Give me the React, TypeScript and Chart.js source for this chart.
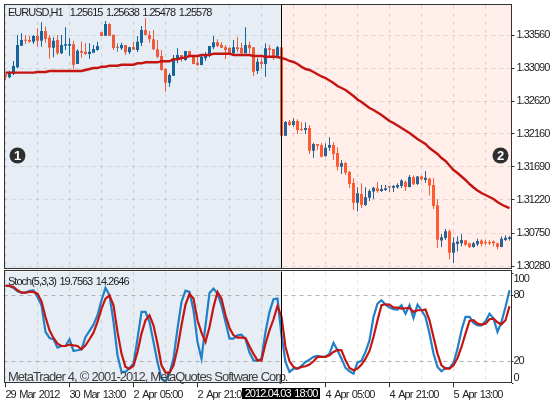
import { useEffect, useRef } from 'react';

import { Chart, registerables } from 'chart.js';
Chart.register(...registerables);

const opens = [
  1.33009, 1.32962, 1.33009, 1.33104, 1.33412, 1.33492, 1.33492, 1.33468, 1.33549, 1.33483, 1.33620, 1.33525, 1.33383, 1.33492, 1.33303, 1.33412,
  1.33412, 1.33430, 1.33151, 1.33336, 1.33326, 1.33293, 1.33312, 1.33350, 1.33601, 1.33554, 1.33719, 1.33568, 1.33383, 1.33374, 1.33421, 1.33317,
  1.33393, 1.33350, 1.33454, 1.33634, 1.33563, 1.33502, 1.33360, 1.33265, 1.33080, 1.32886, 1.32986, 1.33218, 1.33279, 1.33208, 1.33336, 1.33265,
  1.33170, 1.33137, 1.33232, 1.33279, 1.33388, 1.33459, 1.33421, 1.33388, 1.33383, 1.33303, 1.33388, 1.33383, 1.33303, 1.33421, 1.33388, 1.33052,
  1.33184, 1.33151, 1.33374, 1.33364, 1.33270, 1.33388, 1.32134, 1.32332, 1.32285, 1.32342, 1.32224, 1.32214, 1.32243, 1.31921, 1.32015, 1.32001,
  1.31845, 1.31963, 1.32001, 1.31888, 1.31693, 1.31746, 1.31618, 1.31462, 1.31182, 1.31305, 1.31149, 1.31253, 1.31339, 1.31386, 1.31348, 1.31362,
  1.31400, 1.31395, 1.31400, 1.31419, 1.31476, 1.31405, 1.31542, 1.31448, 1.31552, 1.31504, 1.31523, 1.31433, 1.31144, 1.30643, 1.30681, 1.30775,
  1.30472, 1.30595, 1.30605, 1.30648, 1.30605, 1.30553, 1.30591, 1.30643, 1.30624, 1.30624, 1.30633, 1.30605, 1.30553, 1.30652, 1.30666,
];
const highs = [
  1.33009, 1.33057, 1.33194, 1.33563, 1.33587, 1.33563, 1.33549, 1.33563, 1.33658, 1.33743, 1.33681, 1.33563, 1.33530, 1.33563, 1.33563, 1.33672,
  1.33516, 1.33483, 1.33360, 1.33468, 1.33445, 1.33445, 1.33421, 1.33468, 1.33601, 1.33762, 1.33729, 1.33568, 1.33445, 1.33454, 1.33421, 1.33397,
  1.33468, 1.33549, 1.33691, 1.33800, 1.33620, 1.33634, 1.33492, 1.33350, 1.33090, 1.33019, 1.33279, 1.33374, 1.33279, 1.33336, 1.33336, 1.33279,
  1.33255, 1.33279, 1.33317, 1.33407, 1.33549, 1.33502, 1.33459, 1.33421, 1.33383, 1.33492, 1.33530, 1.33454, 1.33672, 1.33468, 1.33388, 1.33232,
  1.33232, 1.33445, 1.33421, 1.33364, 1.33407, 1.33388, 1.32342, 1.32356, 1.32380, 1.32366, 1.32323, 1.32323, 1.32285, 1.32034, 1.32015, 1.32025,
  1.32025, 1.32110, 1.32039, 1.31968, 1.31788, 1.31764, 1.31632, 1.31528, 1.31400, 1.31457, 1.31400, 1.31372, 1.31409, 1.31476, 1.31433, 1.31433,
  1.31419, 1.31433, 1.31457, 1.31514, 1.31495, 1.31575, 1.31566, 1.31561, 1.31566, 1.31632, 1.31537, 1.31528, 1.31230, 1.30737, 1.30808, 1.30804,
  1.30690, 1.30700, 1.30733, 1.30648, 1.30614, 1.30624, 1.30671, 1.30662, 1.30652, 1.30648, 1.30643, 1.30614, 1.30700, 1.30719, 1.30709,
];
const lows = [
  1.32924, 1.32948, 1.32990, 1.33090, 1.33407, 1.33435, 1.33454, 1.33435, 1.33397, 1.33397, 1.33454, 1.33227, 1.33246, 1.33279, 1.33293, 1.33350,
  1.33270, 1.33085, 1.33151, 1.33241, 1.33279, 1.33227, 1.33312, 1.33341, 1.33549, 1.33554, 1.33554, 1.33350, 1.33326, 1.33350, 1.33279, 1.33293,
  1.33350, 1.33322, 1.33407, 1.33554, 1.33454, 1.33350, 1.33232, 1.33057, 1.32758, 1.32829, 1.32981, 1.33161, 1.33184, 1.33199, 1.33246, 1.33147,
  1.33123, 1.33132, 1.33194, 1.33246, 1.33360, 1.33388, 1.33374, 1.33222, 1.33289, 1.33289, 1.33317, 1.33293, 1.33303, 1.33303, 1.32981, 1.33009,
  1.33090, 1.32971, 1.33246, 1.33208, 1.33255, 1.32134, 1.32134, 1.32271, 1.32261, 1.32157, 1.32200, 1.32157, 1.31873, 1.31821, 1.31930, 1.31826,
  1.31835, 1.31921, 1.31788, 1.31637, 1.31589, 1.31575, 1.31391, 1.31078, 1.31055, 1.31107, 1.31135, 1.31206, 1.31234, 1.31324, 1.31334, 1.31348,
  1.31334, 1.31334, 1.31381, 1.31391, 1.31348, 1.31400, 1.31433, 1.31433, 1.31495, 1.31466, 1.31282, 1.31092, 1.30543, 1.30553, 1.30652, 1.30378,
  1.30326, 1.30487, 1.30558, 1.30567, 1.30534, 1.30543, 1.30567, 1.30558, 1.30581, 1.30581, 1.30558, 1.30520, 1.30548, 1.30638, 1.30643,
];
const closes = [
  1.32971, 1.33033, 1.33123, 1.33421, 1.33492, 1.33483, 1.33468, 1.33549, 1.33483, 1.33620, 1.33506, 1.33383, 1.33483, 1.33303, 1.33421, 1.33430,
  1.33435, 1.33142, 1.33341, 1.33312, 1.33293, 1.33326, 1.33364, 1.33407, 1.33549, 1.33719, 1.33554, 1.33378, 1.33383, 1.33421, 1.33317, 1.33388,
  1.33355, 1.33468, 1.33634, 1.33563, 1.33502, 1.33360, 1.33255, 1.33066, 1.32886, 1.32995, 1.33232, 1.33279, 1.33232, 1.33336, 1.33265, 1.33151,
  1.33137, 1.33255, 1.33279, 1.33407, 1.33459, 1.33407, 1.33383, 1.33350, 1.33303, 1.33388, 1.33360, 1.33303, 1.33421, 1.33374, 1.33042, 1.33184,
  1.33151, 1.33374, 1.33350, 1.33270, 1.33388, 1.32134, 1.32328, 1.32285, 1.32342, 1.32214, 1.32214, 1.32243, 1.31921, 1.32015, 1.31992, 1.31835,
  1.31963, 1.32001, 1.31873, 1.31693, 1.31746, 1.31608, 1.31447, 1.31182, 1.31315, 1.31154, 1.31258, 1.31348, 1.31395, 1.31348, 1.31376, 1.31386,
  1.31400, 1.31419, 1.31433, 1.31495, 1.31405, 1.31547, 1.31443, 1.31552, 1.31514, 1.31537, 1.31424, 1.31135, 1.30657, 1.30690, 1.30775, 1.30472,
  1.30614, 1.30629, 1.30652, 1.30586, 1.30553, 1.30605, 1.30638, 1.30595, 1.30605, 1.30605, 1.30605, 1.30553, 1.30671, 1.30685, 1.30690,
];
const movingAverage = [
  1.33028, 1.33028, 1.33028, 1.33028, 1.33028, 1.33028, 1.33028, 1.33028, 1.33038, 1.33038, 1.33038, 1.33052, 1.33052, 1.33052, 1.33052, 1.33052,
  1.33052, 1.33052, 1.33052, 1.33052, 1.33066, 1.33080, 1.33094, 1.33094, 1.33113, 1.33113, 1.33127, 1.33127, 1.33127, 1.33141, 1.33141, 1.33141,
  1.33141, 1.33161, 1.33161, 1.33175, 1.33175, 1.33175, 1.33175, 1.33190, 1.33190, 1.33190, 1.33218, 1.33218, 1.33236, 1.33241, 1.33265, 1.33265,
  1.33265, 1.33279, 1.33279, 1.33279, 1.33297, 1.33297, 1.33297, 1.33297, 1.33297, 1.33279, 1.33279, 1.33279, 1.33279, 1.33279, 1.33265, 1.33265,
  1.33265, 1.33255, 1.33255, 1.33255, 1.33251, 1.33236, 1.33222, 1.33194, 1.33180, 1.33151, 1.33113, 1.33080, 1.33066, 1.33038, 1.33005, 1.32974,
  1.32952, 1.32917, 1.32881, 1.32839, 1.32810, 1.32782, 1.32739, 1.32697, 1.32647, 1.32612, 1.32569, 1.32526, 1.32498, 1.32463, 1.32427, 1.32384,
  1.32342, 1.32313, 1.32278, 1.32242, 1.32207, 1.32171, 1.32129, 1.32086, 1.32051, 1.32015, 1.31958, 1.31916, 1.31873, 1.31816, 1.31774, 1.31710,
  1.31646, 1.31603, 1.31554, 1.31504, 1.31447, 1.31398, 1.31355, 1.31319, 1.31291, 1.31263, 1.31234, 1.31192, 1.31156, 1.31128, 1.31106,
];
const stochMain = [
  88.5, 88.5, 86.7, 83.6, 82.4, 82.4, 84, 84.5, 78.5, 70.9, 46.7, 41.2, 40, 32.4, 33.9, 33.9,
  40, 29.4, 30, 30.9, 42.1, 47.6, 53.3, 61.8, 75.5, 86.7, 80, 55.8, 25.5, 10.3, 10.3, 13.9,
  17.9, 40.6, 64.9, 64.9, 55.8, 37.6, 19.4, 4.2, 1.5, 8.8, 22.4, 49.7, 73.9, 84.2, 83, 66.4,
  37.6, 22.4, 52.7, 82, 86, 81.5, 70.9, 55.8, 40.6, 40.6, 43.6, 44.2, 40, 27.9, 20.9, 20.3,
  22.4, 46.7, 64.9, 76.4, 77, 43.6, 19.4, 10.3, 13.3, 13.3, 15.8, 19.4, 21.5, 24, 24.9, 24,
  24, 27, 36.7, 30, 22.4, 14, 10.9, 8.8, 18.8, 20.6, 28.5, 39, 60.3, 72.4, 75.5, 71.5,
  68.8, 67.3, 67, 70.9, 63.3, 70.9, 59.4, 71.5, 66.4, 60.3, 45.2, 27, 14.9, 10.9, 13.9, 13.9,
  18.5, 31.5, 48.2, 60.3, 60.3, 54.9, 52.7, 52.7, 56.4, 63.3, 58.8, 46.7, 55.8, 69.4, 84.5,
];
const stochSignal = [
  88.5, 88.5, 87.6, 84.5, 82.4, 82.4, 83, 83, 81.5, 74.5, 60.3, 48.2, 41.2, 36, 33.9, 33.9,
  35.2, 34.5, 33.9, 30.9, 34.5, 40, 46, 55.8, 67.9, 77, 80, 70.9, 46.7, 27, 14.9, 13.3,
  15.8, 28.5, 45.2, 57.3, 61.8, 52.7, 36, 16.4, 9.7, 9.7, 16.4, 31.5, 52.7, 71.5, 81.2, 77,
  57.3, 46, 37.6, 51.2, 69.4, 83, 77, 61.8, 50.3, 43.6, 41.5, 41.5, 41.2, 33.6, 26.7, 20.9,
  20.9, 36, 48.2, 58.2, 70.3, 60.3, 33, 20, 14.9, 13.3, 14.9, 15.5, 17, 20, 24, 24,
  24, 25.5, 28.5, 30.3, 30, 20.9, 14, 11.8, 13.3, 17, 22.4, 29.4, 42.1, 57.3, 70.9, 71.8,
  71.5, 68.8, 68.8, 67.9, 68.2, 68.5, 64.9, 66.4, 66.4, 67, 57.3, 42.1, 27, 16.4, 13.3, 13.3,
  16.4, 23, 33, 45.2, 56.7, 57.3, 54.2, 53.3, 54.2, 58.2, 58.8, 55.5, 53.6, 57.3, 70,
];

const priceTicks = [1.33560, 1.33090, 1.32620, 1.32160, 1.31690, 1.31220, 1.30750, 1.30280];
const stochTicks = [100, 80, 20, 0];
const timeLabels: Record<number, string> = {
  0: '29 Mar 2012',
  16: '30 Mar 13:00',
  32: '2 Apr 05:00',
  48: '2 Apr 21:00',
  80: '4 Apr 05:00',
  96: '4 Apr 21:00',
  112: '5 Apr 13:00',
};
const DIVIDER_BAR = 69;
const GRID_STEP = 8;

const FONT = '"Liberation Sans", sans-serif';
const TIGHT = '-1px'; // the platform font is narrower than anything installed
const GRID = 'rgba(120,120,120,0.22)';
const FRAME = '#333';

const categories = opens.map((_, i) => String(i));

function bodyColor(i: number) {
  const right = i >= DIVIDER_BAR;
  if (closes[i] > opens[i]) return right ? '#2a6294' : '#14659b';
  if (closes[i] < opens[i]) return right ? '#ff5a30' : '#ee5a3a';
  return right ? '#8a6a6a' : '#777';
}

// panel background, left and right of the selected bar
function panelPlugin(rightColor: string, texts: (c: CanvasRenderingContext2D) => void) {
  return {
    id: 'panel',
    beforeDraw(chart: any) {
      const { ctx, chartArea: a, scales } = chart;
      const split = scales.x.getPixelForValue(DIVIDER_BAR);
      ctx.save();
      ctx.fillStyle = '#e6edf4';
      ctx.fillRect(a.left + 1, a.top, split - a.left - 1, a.height);
      ctx.fillStyle = rightColor;
      ctx.fillRect(split, a.top, a.right - split, a.height);
      ctx.restore();
      ctx.letterSpacing = TIGHT;
      ctx.wordSpacing = '1.5px';
    },
    afterDraw(chart: any) {
      const { ctx, chartArea: a, scales } = chart;
      const split = Math.floor(scales.x.getPixelForValue(DIVIDER_BAR)) + 0.5;
      ctx.save();
      ctx.strokeStyle = '#000';
      ctx.lineWidth = 1;
      ctx.beginPath();
      ctx.moveTo(split, a.top);
      ctx.lineTo(split, a.bottom);
      ctx.stroke();
      ctx.strokeStyle = FRAME;
      ctx.strokeRect(a.left + 1, Math.floor(a.top) - 0.5, a.right - a.left - 1, Math.round(a.height));
      texts(ctx);
      ctx.restore();
    },
  };
}

function badge(ctx: CanvasRenderingContext2D, x: number, y: number, label: string) {
  ctx.fillStyle = '#2e2e2e';
  ctx.beginPath();
  ctx.arc(x, y, 8, 0, Math.PI * 2);
  ctx.fill();
  ctx.fillStyle = '#fff';
  ctx.font = `bold 13px ${FONT}`;
  ctx.letterSpacing = '0px';
  ctx.textAlign = 'center';
  ctx.textBaseline = 'middle';
  ctx.fillText(label, x, y + 0.5);
}

function drawPriceTexts(ctx: CanvasRenderingContext2D) {
  ctx.fillStyle = '#222';
  ctx.font = `11px ${FONT}`;
  ctx.textAlign = 'left';
  ctx.textBaseline = 'middle';
  ctx.fillText('EURUSD,H1  1.25615 1.25638 1.25478 1.25578', 8, 12.5);
  badge(ctx, 17.5, 155.5, '1');
  badge(ctx, 500.5, 155.5, '2');
}

function drawStochTexts(ctx: CanvasRenderingContext2D) {
  ctx.fillStyle = '#222';
  ctx.font = `11px ${FONT}`;
  ctx.textAlign = 'left';
  ctx.textBaseline = 'middle';
  ctx.fillText('Stoch(5,3,3) 19.7563 14.2646', 8, 12);
  ctx.fillStyle = '#3c3c3c';
  ctx.font = `13px ${FONT}`;
  ctx.letterSpacing = '-1px';
  ctx.wordSpacing = '0.5px';
  ctx.fillText('MetaTrader 4, © 2001-2012, MetaQuotes Software Corp.', 8, 107);
  ctx.fillStyle = '#000';
  ctx.fillRect(242, 118, 78, 11);
  ctx.fillStyle = '#fff';
  ctx.font = `11px ${FONT}`;
  ctx.letterSpacing = '-0.9px';
  ctx.wordSpacing = '1.5px';
  ctx.textAlign = 'center';
  ctx.fillText('2012.04.03 18:00', 281, 123.5);
}

function keepGridTicks(scale: any) {
  scale.ticks = scale.ticks.filter((t: any) => t.value % GRID_STEP === 0);
}

// no room reserved for labels that hang over the plot area
function noMargins(scale: any) {
  scale.paddingTop = 0;
  scale.paddingBottom = 0;
  scale.paddingLeft = 0;
  scale.paddingRight = 0;
}

export default function App() {
  const priceRef = useRef<HTMLCanvasElement>(null);
  const stochRef = useRef<HTMLCanvasElement>(null);

  useEffect(() => {
    if (!priceRef.current || !stochRef.current) return;

    const priceChart = new Chart(priceRef.current, {
      type: 'bar',
      data: {
        labels: categories,
        datasets: [
          {
            type: 'line',
            data: movingAverage,
            borderColor: '#c41512',
            borderWidth: 2.4,
            pointRadius: 0,
            tension: 0,
            order: 0,
          },
          {
            data: opens.map((o, i) => [o, closes[i]]),
            backgroundColor: opens.map((_, i) => bodyColor(i)),
            barThickness: 3,
            minBarLength: 1,
            grouped: false,
            inflateAmount: 0,
            order: 1,
          },
          {
            data: lows.map((l, i) => [l, highs[i]]),
            backgroundColor: opens.map((_, i) => bodyColor(i)),
            barThickness: 1,
            grouped: false,
            inflateAmount: 0,
            order: 2,
          },
        ] as any,
      },
      options: {
        animation: false,
        responsive: false,
        devicePixelRatio: 1,
        layout: { padding: { left: 3.5, right: 0, top: 5, bottom: 1 } },
        plugins: { legend: { display: false }, tooltip: { enabled: false } },
        scales: {
          x: {
            offset: true,
            afterBuildTicks: keepGridTicks,
            afterFit: (s: any) => { s.height = 0; noMargins(s); },
            grid: { offset: false, color: GRID, drawTicks: false },
            border: { display: false, dash: [4, 4] },
            ticks: { display: false, autoSkip: false },
          },
          y: {
            position: 'right',
            min: 1.3024,
            max: 1.33989,
            afterBuildTicks: (s: any) => { s.ticks = priceTicks.map(value => ({ value })); },
            afterFit: (s: any) => { s.width = 42.5; noMargins(s); },
            grid: { color: GRID, tickColor: FRAME, tickLength: 3 },
            border: { display: false, dash: [4, 4] },
            ticks: {
              color: '#222',
              padding: 2,
              font: { family: FONT, size: 11 },
              callback: (v: any) => Number(v).toFixed(5),
            },
          },
        },
      },
      plugins: [panelPlugin('#ffeeea', drawPriceTexts)],
    } as any);

    const stochChart = new Chart(stochRef.current, {
      type: 'line',
      data: {
        labels: categories,
        datasets: [
          {
            data: stochSignal,
            borderColor: '#c41512',
            borderWidth: 2.2,
            pointRadius: 0,
            tension: 0,
            order: 0,
          },
          {
            data: stochMain,
            borderColor: '#2080c8',
            borderWidth: 2.2,
            pointRadius: 0,
            tension: 0,
            order: 1,
          },
        ],
      },
      options: {
        animation: false,
        responsive: false,
        devicePixelRatio: 1,
        layout: { padding: { left: 3.5, right: 0, top: 1.5, bottom: 0 } },
        plugins: { legend: { display: false }, tooltip: { enabled: false } },
        scales: {
          x: {
            offset: true,
            afterBuildTicks: keepGridTicks,
            afterFit: (s: any) => { s.height = 19.7; noMargins(s); },
            grid: {
              offset: false,
              color: GRID,
              tickLength: 4,
              tickColor: (c: any) => (timeLabels[c.tick?.value] ? FRAME : 'transparent'),
            },
            border: { display: false, dash: [4, 4] },
            ticks: {
              autoSkip: false,
              maxRotation: 0,
              align: 'start',
              padding: 1,
              color: '#222',
              font: { family: FONT, size: 11 },
              callback: (v: any) => timeLabels[v] ?? '',
            },
          },
          y: {
            position: 'right',
            min: 0,
            max: 101.6,
            afterBuildTicks: (s: any) => { s.ticks = stochTicks.map(value => ({ value })); },
            afterFit: (s: any) => { s.width = 42.5; noMargins(s); },
            grid: {
              color: (c: any) => (c.tick?.value === 20 || c.tick?.value === 80 ? '#b0b0b0' : 'transparent'),
              tickColor: FRAME,
              tickLength: 2,
            },
            border: { display: false, dash: [4, 4] },
            ticks: {
              color: '#222',
              padding: 0,
              font: { family: FONT, size: 11, lineHeight: 1 },
              // the top and bottom labels sit inside the panel
              callback: (v: any) => (v === 100 ? ['', '100'] : v === 0 ? ['0', ''] : String(v)),
            },
          },
        },
      },
      plugins: [panelPlugin('#ffffff', drawStochTexts)],
    } as any);

    return () => {
      priceChart.destroy();
      stochChart.destroy();
    };
  }, []);

  return (
    <div style={{ position: 'absolute', left: 0, top: 0, width: 554, height: 403, background: '#fff' }}>
      <canvas ref={priceRef} width={554} height={270} style={{ position: 'absolute', left: 0, top: 0 }} />
      <canvas ref={stochRef} width={554} height={133} style={{ position: 'absolute', left: 0, top: 270 }} />
    </div>
  );
}
